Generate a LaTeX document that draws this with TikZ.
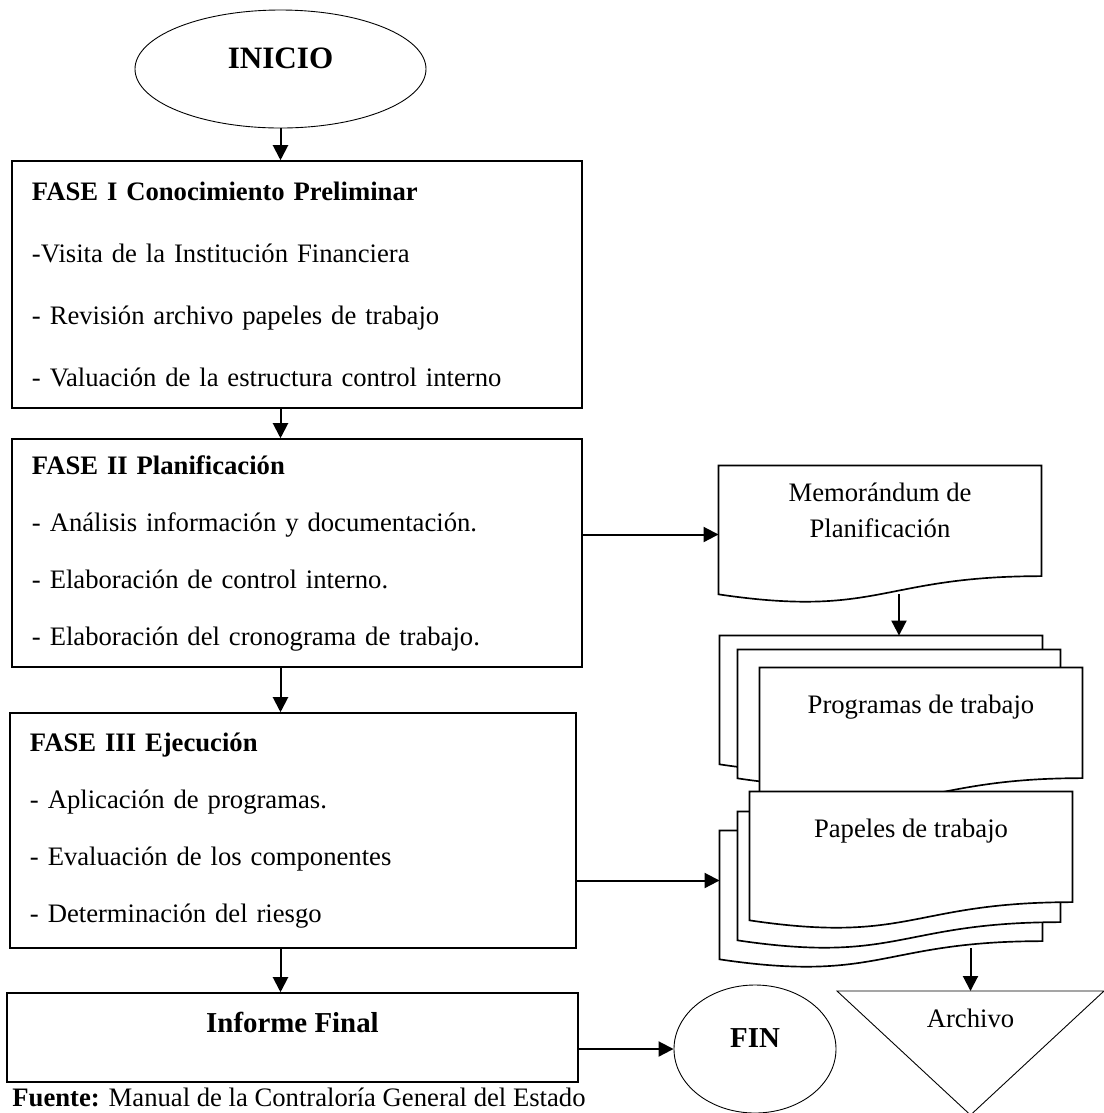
\documentclass[tikz,border=0pt]{standalone}
\usepackage{fontspec}
\setmainfont{Liberation Serif}
\usetikzlibrary{shapes.geometric}
\usetikzlibrary{arrows.meta,calc}

% hoja con borde inferior ondulado
\newcommand{\hoja}[1]{%
  \draw[line width=0.75pt, fill=white] (#1.north west) -- (#1.north east)
    -- ($(#1.north east)!0.802!(#1.south east)$)
    .. controls ($(#1.north)!0.802!(#1.south)$) and ($(#1.north)!1.1075!(#1.south)$)
    .. ($(#1.north west)!0.934!(#1.south west)$) -- cycle;}

\begin{document}
\begin{tikzpicture}[x=0.45pt, y=-0.45pt,
                caja/.style={draw, rectangle, line width=0.7pt, inner sep=0pt},
                fase/.style={caja, align=left, inner xsep=9pt},
                ovalo/.style={draw, ellipse, line width=0.4pt, inner sep=0pt},
                papel/.style={minimum width=144.9pt, minimum height=61.65pt, inner sep=0pt},
                texto/.style={font=\fontsize{12}{16.2}\selectfont, align=center, inner sep=0pt},
                flecha/.style={line width=0.9pt, -{Triangle[length=6.75pt,width=6.75pt]}}]
    \useasboundingbox (0,0) rectangle (1104,1113);

    % columna izquierda
    \node[ovalo, minimum width=130.95pt, minimum height=53.1pt,
          label={[font=\bfseries\fontsize{14}{16}\selectfont, yshift=5pt]center:INICIO}] (inicio) at (280.5,69) {};
    \node[fase, text width=238.5pt, minimum height=111.15pt, font=\fontsize{12}{27.9}\selectfont] (fase1) at (297,284.5)
        {\textbf{FASE I Conocimiento Preliminar}\\-Visita de la Institución Financiera\\- Revisión archivo papeles de trabajo\\- Valuación de la estructura control interno};
    \node[fase, text width=238.5pt, minimum height=102.6pt, font=\fontsize{12}{25.65}\selectfont] (fase2) at (297,553)
        {\textbf{FASE II Planificación}\\- Análisis información y documentación.\\- Elaboración de control interno.\\- Elaboración del cronograma de trabajo.};
    \node[fase, text width=236.7pt, minimum height=105.75pt, font=\fontsize{12}{25.65}\selectfont] (fase3) at (293,830.5)
        {\textbf{FASE III Ejecución}\\- Aplicación de programas.\\- Evaluación de los componentes\\- Determinación del riesgo};
    \node[caja, minimum width=256.95pt, minimum height=40.05pt,
          label={[font=\bfseries\fontsize{13}{15}\selectfont, yshift=6.75pt]center:Informe Final}] (informe) at (292.5,1037.5) {};
    \node[ovalo, minimum width=72.9pt, minimum height=57.6pt,
          label={[font=\bfseries\fontsize{13}{15}\selectfont, yshift=5pt]center:FIN}] (fin) at (755,1049) {};
    \node[anchor=base west, inner sep=0pt, font=\fontsize{12}{14}\selectfont] (fuente) at (12,1106)
        {\textbf{Fuente:} Manual de la Contraloría General del Estado};

    % documentos
    \node[papel] (memo) at (880,534.5) {};
    \node[papel] (prog1) at (881,704.5) {};
    \node[papel] (prog2) at (899,718.5) {};
    \node[papel] (prog3) at (921,736.5) {};
    \node[papel] (pap1) at (881,899.5) {};
    \node[papel] (pap2) at (899,880.5) {};
    \node[papel] (pap3) at (911,860.5) {};
    \foreach \h in {memo,prog1,prog2,prog3,pap1,pap2,pap3} {\hoja{\h}}
    \node[texto] (memotxt) at ($(memo.north)+(0,45)$) {Memorándum de\\Planificación};
    \node[texto] (progtxt) at ($(prog3.north)+(0,40)$) {Programas de trabajo};
    \node[texto] (paptxt) at ($(pap3.north)+(0,40)$) {Papeles de trabajo};

    % archivo
    \coordinate (archtop) at (970.5,991);
    \draw[line width=0.4pt] ($(archtop)+(-133.5,0)$) -- ($(archtop)+(133.5,0)$) -- ($(archtop)+(0,124)$) -- cycle;
    \node[texto] (archivo) at ($(archtop)+(0,27)$) {Archivo};

    % flechas
    \draw[flecha] (inicio.south) -- (inicio.south |- fase1.north);
    \draw[flecha] (fase1.south -| inicio.south) -- (fase2.north -| inicio.south);
    \draw[flecha] (fase2.south -| inicio.south) -- (fase3.north -| inicio.south);
    \draw[flecha] (fase3.south -| inicio.south) -- (informe.north -| inicio.south);
    \draw[flecha] (fase2.east |- memo.west) -- (memo.west);
    \draw[flecha] ($(prog2.north |- memo.south)+(0,-9)$) -- (prog2.north |- prog1.north);
    \draw[flecha] (fase3.east |- pap2.west) -- (pap1.west |- pap2.west);
    \draw[flecha] ($(archtop |- pap1.south)+(0,-20)$) -- (archtop);
    \draw[flecha] (informe.east |- fin.west) -- (fin.west);
\end{tikzpicture}
\end{document}
